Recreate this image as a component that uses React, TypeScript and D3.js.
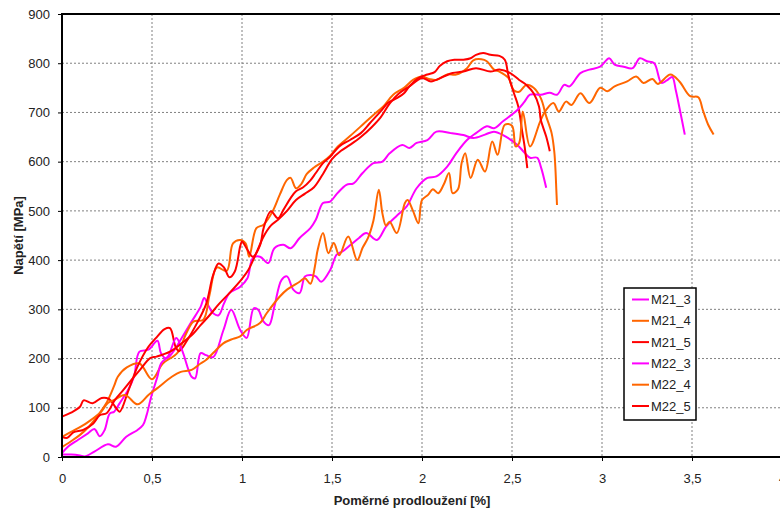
import React, { useEffect, useRef } from 'react';
import * as d3 from 'd3';

// strain [%] vs stress [MPa]
const m21_3 = [[0,8],[0.033,21],[0.09,35],[0.144,48],[0.18,57],[0.21,42],[0.237,55],[0.265,88],[0.29,92],[0.32,109],[0.367,136],[0.4,163],[0.43,214],[0.48,218],[0.53,236],[0.55,211],[0.58,200],[0.62,215],[0.67,245],[0.72,275],[0.77,305],[0.79,323],[0.81,310],[0.84,292],[0.87,288],[0.9,312],[0.93,333],[0.99,346],[1.03,363],[1.06,404],[1.1,407],[1.146,394],[1.18,424],[1.23,431],[1.27,424],[1.32,445],[1.38,465],[1.41,482],[1.45,516],[1.49,519],[1.53,536],[1.58,553],[1.62,556],[1.67,577],[1.73,597],[1.78,600],[1.82,617],[1.89,634],[1.93,628],[1.97,638],[2.03,644],[2.08,661],[2.16,658],[2.23,654],[2.285,648],[2.35,655],[2.4,661],[2.45,654],[2.53,634],[2.57,618],[2.6,608],[2.64,608],[2.66,590],[2.69,547]];
const m21_4 = [[0,20],[0.05,32],[0.1,45],[0.15,62],[0.2,85],[0.25,112],[0.29,145],[0.31,163],[0.36,182],[0.43,190],[0.5,158],[0.56,190],[0.64,211],[0.69,251],[0.73,275],[0.785,279],[0.82,330],[0.86,385],[0.915,378],[0.95,434],[0.99,441],[1.02,434],[1.04,407],[1.08,465],[1.12,472],[1.17,499],[1.21,533],[1.25,563],[1.27,567],[1.3,546],[1.33,555],[1.36,575],[1.4,588],[1.45,600],[1.49,612],[1.53,630],[1.6,652],[1.67,675],[1.73,695],[1.785,712],[1.84,736],[1.9,750],[1.95,766],[2.0,773],[2.04,768],[2.08,766],[2.14,777],[2.19,777],[2.25,790],[2.285,806],[2.33,808],[2.36,804],[2.4,787],[2.43,783],[2.48,770],[2.51,745],[2.54,742],[2.58,756],[2.62,750],[2.66,729],[2.69,692],[2.72,658],[2.735,620],[2.742,580],[2.746,545],[2.75,512]];
const m21_5 = [[0,82],[0.05,90],[0.1,102],[0.12,115],[0.17,109],[0.22,120],[0.26,118],[0.3,100],[0.32,92],[0.37,136],[0.42,184],[0.48,224],[0.52,241],[0.57,260],[0.6,262],[0.63,225],[0.65,215],[0.7,240],[0.75,272],[0.8,310],[0.84,370],[0.87,393],[0.9,385],[0.93,365],[0.96,377],[0.99,428],[1.0,438],[1.03,421],[1.06,407],[1.1,430],[1.12,465],[1.16,499],[1.2,485],[1.23,502],[1.27,526],[1.3,540],[1.34,548],[1.38,562],[1.41,577],[1.45,597],[1.49,610],[1.54,631],[1.6,644],[1.66,658],[1.71,678],[1.77,702],[1.81,719],[1.86,729],[1.9,739],[1.93,753],[1.98,770],[2.03,777],[2.07,782],[2.1,795],[2.14,804],[2.18,807],[2.23,807],[2.27,810],[2.3,817],[2.34,821],[2.38,817],[2.43,815],[2.46,807],[2.48,775],[2.51,740],[2.535,712],[2.555,665],[2.57,631],[2.585,587]];
const m22_3 = [[0,5],[0.05,5],[0.1,3],[0.126,1],[0.18,11],[0.255,26],[0.3,21],[0.357,41],[0.42,55],[0.45,65],[0.47,85],[0.496,123],[0.53,163],[0.55,190],[0.59,205],[0.635,242],[0.67,214],[0.72,163],[0.74,160],[0.77,211],[0.8,207],[0.84,203],[0.897,258],[0.94,299],[0.99,258],[1.026,242],[1.065,302],[1.09,299],[1.12,275],[1.15,268],[1.18,306],[1.22,360],[1.25,367],[1.285,340],[1.32,333],[1.35,367],[1.38,370],[1.41,367],[1.44,356],[1.49,380],[1.526,411],[1.56,418],[1.6,430],[1.65,445],[1.69,455],[1.75,441],[1.8,468],[1.86,490],[1.915,509],[1.97,546],[2.03,567],[2.08,570],[2.14,590],[2.19,617],[2.25,644],[2.3,658],[2.36,672],[2.4,668],[2.45,682],[2.53,705],[2.57,722],[2.6,736],[2.66,736],[2.71,740],[2.75,736],[2.79,756],[2.82,753],[2.88,780],[2.93,787],[2.99,793],[3.04,810],[3.07,797],[3.12,793],[3.17,790],[3.21,810],[3.25,804],[3.29,800],[3.33,760],[3.36,765],[3.39,772],[3.41,745],[3.43,710],[3.46,655]];
const m22_4 = [[0,41],[0.05,51],[0.107,62],[0.16,75],[0.218,92],[0.255,110],[0.29,116],[0.35,126],[0.42,107],[0.48,126],[0.53,140],[0.61,163],[0.66,173],[0.72,177],[0.77,190],[0.8,197],[0.85,215],[0.896,231],[0.95,240],[0.99,245],[1.026,258],[1.1,272],[1.137,292],[1.21,326],[1.25,340],[1.32,356],[1.35,363],[1.38,352],[1.405,387],[1.42,420],[1.45,455],[1.48,414],[1.51,435],[1.54,410],[1.59,448],[1.64,400],[1.67,425],[1.7,445],[1.73,480],[1.76,543],[1.78,495],[1.8,470],[1.82,478],[1.86,455],[1.905,516],[1.92,522],[1.95,500],[1.98,475],[2.0,522],[2.035,533],[2.06,544],[2.09,536],[2.12,553],[2.15,577],[2.17,536],[2.2,544],[2.22,597],[2.24,617],[2.27,567],[2.31,604],[2.35,580],[2.39,641],[2.42,614],[2.46,675],[2.5,673],[2.52,631],[2.54,638],[2.56,702],[2.6,631],[2.66,685],[2.69,705],[2.73,719],[2.76,702],[2.8,722],[2.83,715],[2.88,739],[2.93,719],[2.99,750],[3.03,743],[3.07,753],[3.14,763],[3.19,773],[3.23,760],[3.28,768],[3.31,758],[3.38,777],[3.43,763],[3.49,733],[3.535,731],[3.56,705],[3.59,675],[3.62,655]];
const m22_5 = [[0,41],[0.03,39],[0.063,50],[0.118,55],[0.174,68],[0.21,85],[0.248,89],[0.294,116],[0.34,136],[0.387,157],[0.433,177],[0.49,201],[0.526,204],[0.6,214],[0.665,231],[0.73,251],[0.77,268],[0.82,288],[0.87,310],[0.93,333],[1.0,362],[1.035,380],[1.08,415],[1.12,448],[1.16,470],[1.2,482],[1.25,500],[1.3,522],[1.35,535],[1.4,548],[1.45,575],[1.5,605],[1.55,622],[1.6,634],[1.66,650],[1.72,670],[1.77,690],[1.82,718],[1.87,738],[1.93,753],[2.0,770],[2.05,763],[2.12,773],[2.17,780],[2.23,783],[2.3,790],[2.38,783],[2.43,787],[2.49,780],[2.54,766],[2.58,756],[2.62,739],[2.65,712],[2.66,685],[2.69,651],[2.71,621]];

const seriesNames = ['M21_3', 'M21_4', 'M21_5', 'M22_3', 'M22_4', 'M22_5'];
const seriesData = [m21_3, m21_4, m21_5, m22_3, m22_4, m22_5];
const seriesColors = ['#ff00ff', '#ff6600', '#ff0000', '#ff00ff', '#ff6600', '#ff0000'];

const xTicks = [0, 0.5, 1, 1.5, 2, 2.5, 3, 3.5, 4];
const yTicks = [0, 100, 200, 300, 400, 500, 600, 700, 800, 900];

const FONT = '"Liberation Sans", Arial, sans-serif';

const App = () => {
  const ref = useRef<SVGSVGElement>(null);

  useEffect(() => {
    const width = 780;
    const height = 512;
    const left = 62, right = 782, top = 14, bottom = 457;

    const x = d3.scaleLinear().domain([0, 4]).range([left, right]);
    const y = d3.scaleLinear().domain([0, 900]).range([bottom, top]);

    const svg = d3.select(ref.current).attr('width', width).attr('height', height);
    svg.selectAll('*').remove();

    svg.append('rect').attr('width', width).attr('height', height).attr('fill', '#fff');

    // dotted grid
    svg.append('g')
      .selectAll('line')
      .data(yTicks.slice(1))
      .join('line')
      .attr('x1', left).attr('x2', right)
      .attr('y1', d => y(d)).attr('y2', d => y(d))
      .attr('stroke', '#808080').attr('stroke-width', 1).attr('stroke-dasharray', '2,2');
    svg.append('g')
      .selectAll('line')
      .data(xTicks.slice(1))
      .join('line')
      .attr('x1', d => x(d)).attr('x2', d => x(d))
      .attr('y1', top).attr('y2', bottom)
      .attr('stroke', '#808080').attr('stroke-width', 1).attr('stroke-dasharray', '2,2');

    // curves
    const line = d3.line<number[]>()
      .x(d => x(d[0]))
      .y(d => y(d[1]))
      .curve(d3.curveCatmullRom.alpha(0.5));

    svg.append('g')
      .selectAll('path')
      .data(seriesData)
      .join('path')
      .attr('fill', 'none')
      .attr('stroke', (d, i) => seriesColors[i])
      .attr('stroke-width', 2)
      .attr('stroke-linejoin', 'round')
      .attr('d', d => line(d));

    // axes
    const xAxis = svg.append('g')
      .attr('transform', `translate(0,${bottom})`)
      .call(d3.axisBottom(x).tickValues(xTicks).tickSize(4).tickPadding(13)
        .tickFormat(d => String(d).replace('.', ',')));
    const yAxis = svg.append('g')
      .attr('transform', `translate(${left},0)`)
      .call(d3.axisLeft(y).tickValues(yTicks).tickSize(4).tickPadding(8));
    [xAxis, yAxis].forEach(a => {
      a.select('.domain').remove();
      a.selectAll('line').attr('stroke', '#000');
      a.selectAll('text').attr('font-family', FONT).attr('font-size', 13).attr('fill', '#222');
    });

    // frame lines
    svg.append('line').attr('x1', left).attr('x2', right).attr('y1', top).attr('y2', top)
      .attr('stroke', '#000').attr('stroke-width', 2);
    svg.append('line').attr('x1', left - 1).attr('x2', right).attr('y1', bottom).attr('y2', bottom)
      .attr('stroke', '#000').attr('stroke-width', 2);
    svg.append('line').attr('x1', left).attr('x2', left).attr('y1', top - 1).attr('y2', bottom + 1)
      .attr('stroke', '#000').attr('stroke-width', 2);

    // axis titles
    svg.append('text')
      .attr('x', (left + right) / 2 - 10).attr('y', 505)
      .attr('text-anchor', 'middle')
      .attr('font-family', FONT).attr('font-size', 13).attr('font-weight', 'bold').attr('fill', '#222')
      .text('Poměrné prodloužení [%]');
    svg.append('text')
      .attr('transform', `translate(23,${(top + bottom) / 2}) rotate(-90)`)
      .attr('text-anchor', 'middle')
      .attr('font-family', FONT).attr('font-size', 13).attr('font-weight', 'bold').attr('fill', '#222')
      .text('Napětí [MPa]');

    // legend
    const lg = svg.append('g').attr('transform', 'translate(624,288)');
    lg.append('rect').attr('width', 72).attr('height', 132)
      .attr('fill', '#fff').attr('stroke', '#000').attr('stroke-width', 1.5);
    const items = lg.selectAll('g.item')
      .data(seriesNames)
      .join('g')
      .attr('class', 'item')
      .attr('transform', (d, i) => `translate(0,${11.5 + i * 21.3})`);
    items.append('line')
      .attr('x1', 8).attr('x2', 25).attr('y1', 0).attr('y2', 0)
      .attr('stroke', (d, i) => seriesColors[i]).attr('stroke-width', 2);
    items.append('text')
      .attr('x', 27).attr('y', 0).attr('dy', '0.35em')
      .attr('font-family', FONT).attr('font-size', 13).attr('fill', '#222')
      .text(d => d);
  }, []);

  return <svg ref={ref} style={{ position: 'absolute', left: 0, top: 0 }} />;
};

export default App;
